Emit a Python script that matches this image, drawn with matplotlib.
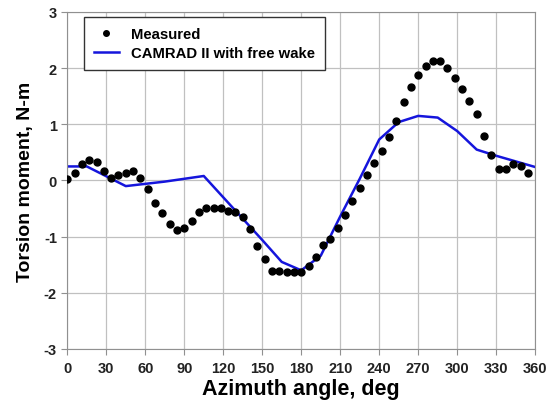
import matplotlib.pyplot as plt
import numpy as np

plt.rcParams["font.family"] = ["Liberation Sans", "DejaVu Sans"]
plt.rcParams["font.weight"] = "bold"
plt.rcParams["axes.unicode_minus"] = False

# measured data: 64 points per revolution
measured_step = 360 / 64
measured_y = [0.03, 0.125, 0.30, 0.36, 0.33, 0.17, 0.05, 0.10, 0.125, 0.17, 0.05, -0.16,
              -0.40, -0.58, -0.77, -0.89, -0.85, -0.73, -0.57, -0.49, -0.49, -0.49, -0.54, -0.56,
              -0.65, -0.86, -1.16, -1.40, -1.61, -1.61, -1.63, -1.63, -1.63, -1.53, -1.36, -1.14,
              -1.05, -0.85, -0.61, -0.36, -0.13, 0.09, 0.32, 0.52, 0.77, 1.06, 1.39, 1.67,
              1.87, 2.04, 2.12, 2.12, 2.00, 1.83, 1.63, 1.42, 1.18, 0.80, 0.45, 0.21,
              0.21, 0.30, 0.26, 0.125]
measured_x = [i * measured_step for i in range(len(measured_y))]

# CAMRAD II free wake
camrad_x = [0, 15, 30, 45, 60, 75, 90, 105, 120, 135, 150, 165, 180, 195, 210, 225,
            240, 255, 270, 285, 300, 315, 330, 345, 360]
camrad_y = [0.25, 0.25, 0.075, -0.10, -0.06, -0.02, 0.03, 0.08, -0.30, -0.68, -1.06, -1.45,
            -1.60, -1.34, -0.64, 0.03, 0.73, 1.04, 1.15, 1.12, 0.88, 0.55, 0.44, 0.34, 0.24]

x_ticks = list(range(0, 361, 30))
y_ticks = [-3, -2, -1, 0, 1, 2, 3]

fig = plt.figure(figsize=(5.54, 4.06), dpi=100)
ax = fig.add_axes([0.1215, 0.138, 0.8445, 0.83])

ax.plot(measured_x, measured_y, 'o', color='black', markersize=5, label='Measured', zorder=3)
ax.plot(camrad_x, camrad_y, '-', color='#1515dc', lw=1.8, label='CAMRAD II with free wake', zorder=2)

ax.set_xlim(0, 360)
ax.set_ylim(-3, 3)
ax.set_xticks(x_ticks)
ax.set_yticks(y_ticks)
ax.grid(True, color='#c0c0c0', lw=0.9)
ax.set_axisbelow(True)
for s in ax.spines.values():
    s.set_color('#909090')
ax.tick_params(axis='both', colors='#909090', labelcolor='#222222', labelsize=10.5, length=4)
ax.tick_params(axis='x', pad=5)

ax.set_xlabel('Azimuth angle, deg', fontsize=15.5, fontweight='bold', labelpad=2)
ax.set_ylabel('Torsion moment, N-m', fontsize=14, fontweight='bold', labelpad=7)

leg = ax.legend(loc='upper left', bbox_to_anchor=(0.036, 0.985), borderaxespad=0,
                fontsize=10.7, frameon=True, fancybox=False, edgecolor='#333333',
                framealpha=1, borderpad=0.65, handlelength=1.7, handletextpad=0.8,
                labelspacing=0.35, markerscale=0.8)
leg.get_frame().set_linewidth(1.0)

fig.savefig('out.png', dpi=100)
